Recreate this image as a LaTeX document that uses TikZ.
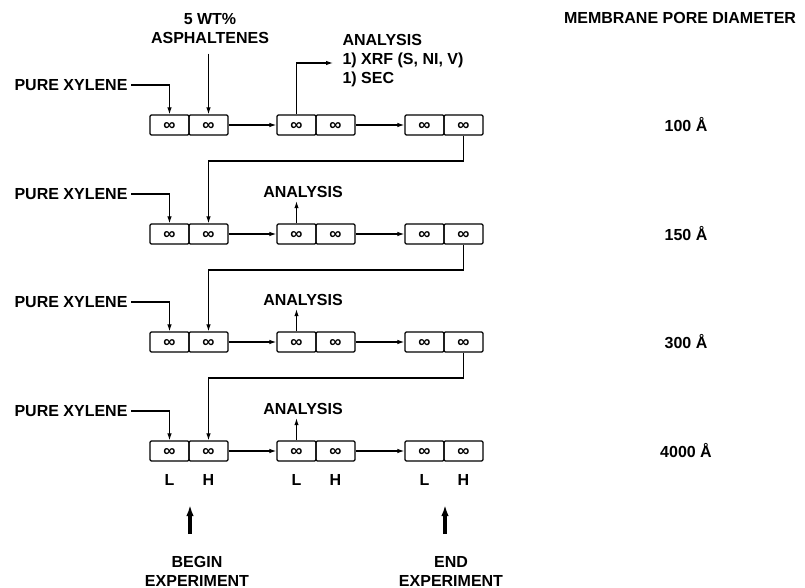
\documentclass[tikz,border=0pt]{standalone}
\usepackage{fontspec}
\setmainfont{Liberation Sans}
\usetikzlibrary{arrows.meta}

\tikzset{
  cell/.style={draw, line width=1.3pt, rounded corners=1.2pt, minimum width=39pt, minimum height=20pt, inner sep=0pt, text height=11pt, text depth=0pt, font=\bfseries\fontsize{17}{17}\selectfont},
  flow/.style={line width=1.1pt, -{Latex[length=7pt,width=4.5pt]}},
  bigflow/.style={line width=3.2pt, -{Latex[length=11pt,width=7.5pt]}},
  lbl/.style={font=\bfseries\fontsize{16}{19}\selectfont},
}

\begin{document}
\begin{tikzpicture}[x=1pt,y=-1pt]
\useasboundingbox (0,0) rectangle (805,588);

\node[lbl] (mpd) at (680,18) {MEMBRANE PORE DIAMETER};

\node[cell] (L1a) at (169.5,125) {∞};
\node[cell] (H1a) at (208.5,125) {∞};
\node[cell] (L1b) at (296.5,125) {∞};
\node[cell] (H1b) at (335.5,125) {∞};
\node[cell] (L1c) at (424.5,125) {∞};
\node[cell] (H1c) at (463.5,125) {∞};
\draw[flow] (H1a) -- (L1b);
\draw[flow] (H1b) -- (L1c);
\node[lbl, anchor=east] (xyl1) at (131,85) {PURE XYLENE};
\draw[flow] (xyl1) -| (L1a);
\node[lbl, align=center] (asph) at (210,29) {5 WT\%\\ASPHALTENES};
\draw[flow, shorten <=6pt] (asph.south -| H1a) -- (H1a);
\node[lbl, align=left, anchor=west] (ana1) at (339,61) {ANALYSIS\\1) XRF (S, NI, V)\\1) SEC};
\coordinate (ana1in) at (333,63);
\draw[flow] (L1b) |- (ana1in);
\node[lbl] (d1) at (686,125) {100 Å};

\node[cell] (L2a) at (169.5,234) {∞};
\node[cell] (H2a) at (208.5,234) {∞};
\node[cell] (L2b) at (296.5,234) {∞};
\node[cell] (H2b) at (335.5,234) {∞};
\node[cell] (L2c) at (424.5,234) {∞};
\node[cell] (H2c) at (463.5,234) {∞};
\draw[flow] (H1c) -- ++(0,36) -| (H2a);
\draw[flow] (H2a) -- (L2b);
\draw[flow] (H2b) -- (L2c);
\node[lbl, anchor=east] (xyl2) at (131,194) {PURE XYLENE};
\draw[flow] (xyl2) -| (L2a);
\node[lbl] (ana2) at (303,192) {ANALYSIS};
\draw[flow] (L2b) -- (L2b |- ana2.south);
\node[lbl] (d2) at (686,234) {150 Å};

\node[cell] (L3a) at (169.5,342) {∞};
\node[cell] (H3a) at (208.5,342) {∞};
\node[cell] (L3b) at (296.5,342) {∞};
\node[cell] (H3b) at (335.5,342) {∞};
\node[cell] (L3c) at (424.5,342) {∞};
\node[cell] (H3c) at (463.5,342) {∞};
\draw[flow] (H2c) -- ++(0,36) -| (H3a);
\draw[flow] (H3a) -- (L3b);
\draw[flow] (H3b) -- (L3c);
\node[lbl, anchor=east] (xyl3) at (131,302) {PURE XYLENE};
\draw[flow] (xyl3) -| (L3a);
\node[lbl] (ana3) at (303,300) {ANALYSIS};
\draw[flow] (L3b) -- (L3b |- ana3.south);
\node[lbl] (d3) at (686,342) {300 Å};

\node[cell] (L4a) at (169.5,451) {∞};
\node[cell] (H4a) at (208.5,451) {∞};
\node[cell] (L4b) at (296.5,451) {∞};
\node[cell] (H4b) at (335.5,451) {∞};
\node[cell] (L4c) at (424.5,451) {∞};
\node[cell] (H4c) at (463.5,451) {∞};
\draw[flow] (H3c) -- ++(0,36) -| (H4a);
\draw[flow] (H4a) -- (L4b);
\draw[flow] (H4b) -- (L4c);
\node[lbl, anchor=east] (xyl4) at (131,411) {PURE XYLENE};
\draw[flow] (xyl4) -| (L4a);
\node[lbl] (ana4) at (303,409) {ANALYSIS};
\draw[flow] (L4b) -- (L4b |- ana4.south);
\node[lbl] (d4) at (686,451) {4000 Å};

\node[lbl] (la) at (169.5,480) {L};
\node[lbl] (ha) at (208.5,480) {H};
\node[lbl] (lb) at (296.5,480) {L};
\node[lbl] (hb) at (335.5,480) {H};
\node[lbl] (lc) at (424.5,480) {L};
\node[lbl] (hc) at (463.5,480) {H};

\coordinate (begintail) at (190,534);
\coordinate (begintip) at (190,505);
\draw[bigflow] (begintail) -- (begintip);
\node[lbl, align=center] (beginexp) at (197,571) {BEGIN\\EXPERIMENT};
\coordinate (endtail) at (445,534);
\coordinate (endtip) at (445,505);
\draw[bigflow] (endtail) -- (endtip);
\node[lbl, align=center] (endexp) at (451,571) {END\\EXPERIMENT};
\end{tikzpicture}
\end{document}
